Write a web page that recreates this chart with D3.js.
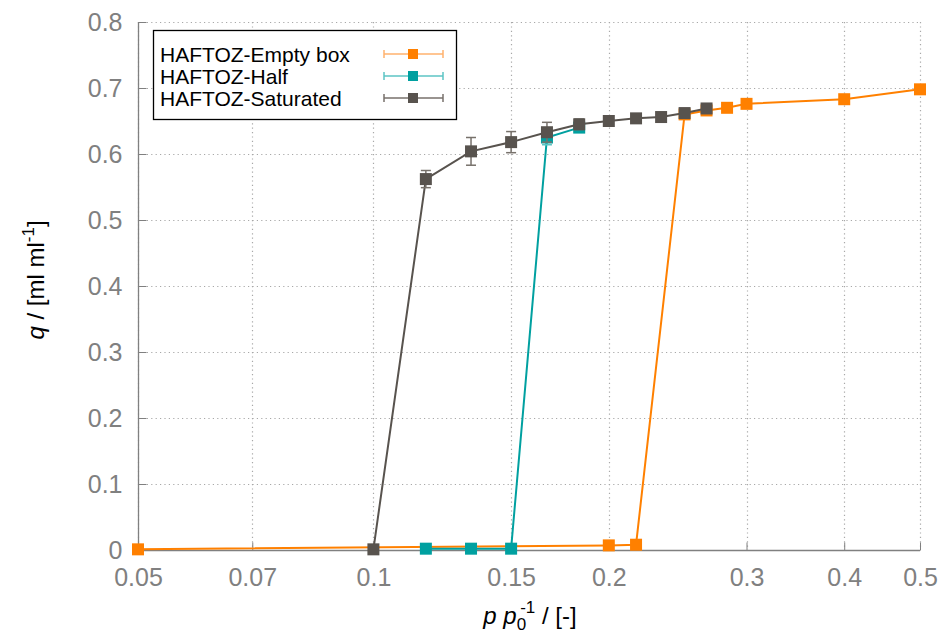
<!DOCTYPE html>
<html lang="en">
<head>
<meta charset="UTF-8">
<title>HAFTOZ isotherms</title>
<script src="https://d3js.org/d3.v7.min.js"></script>
<style>
  body { margin: 0; background: #fff; }
  svg { font-family: "Liberation Sans", Arial, sans-serif; }
  .tick-label { fill: #808080; font-size: 25px; }
  .title { fill: #000; font-size: 24px; }
</style>
</head>
<body>
<svg width="946" height="636"></svg>
<script>
// x: relative pressure p/p0, y: uptake q in ml/ml
const emptyX = [0.05, 0.2, 0.2167, 0.25, 0.2667, 0.2833, 0.3, 0.4, 0.5];
const emptyQ = [0.001, 0.007, 0.008, 0.660, 0.666, 0.670, 0.676, 0.683, 0.698];
const emptyErr = [0.001, 0.001, 0.001, 0.004, 0.003, 0.003, 0.004, 0.003, 0.004];

const halfX = [0.1167, 0.1333, 0.15, 0.1667, 0.1833];
const halfQ = [0.002, 0.002, 0.002, 0.625, 0.640];
const halfErr = [0.001, 0.001, 0.001, 0.011, 0.006];

const satX = [0.1, 0.1167, 0.1333, 0.15, 0.1667, 0.1833, 0.2, 0.2167, 0.2333, 0.25, 0.2667];
const satQ = [0.001, 0.562, 0.604, 0.618, 0.633, 0.645, 0.650, 0.654, 0.656, 0.662, 0.669];
const satErr = [0.001, 0.013, 0.021, 0.016, 0.015, 0.008, 0.007, 0.004, 0.003, 0.004, 0.004];

const xTicks = [0.05, 0.07, 0.1, 0.15, 0.2, 0.3, 0.4, 0.5];
const yTicks = [0, 0.1, 0.2, 0.3, 0.4, 0.5, 0.6, 0.7, 0.8];

const seriesNames = ["HAFTOZ-Empty box", "HAFTOZ-Half", "HAFTOZ-Saturated"];
const seriesColors = ["#ff8000", "#00a0a0", "#58534e"];
const errColors = ["#ffb26e", "#5cc4c4", "#77716b"];

const svg = d3.select("svg");
const pl = 138, pr = 920, pt = 22, pb = 550;

const x = d3.scaleLog().domain([0.05, 0.5]).range([pl, pr]);
const y = d3.scaleLinear().domain([0, 0.8]).range([pb, pt]);

// grid
const grid = svg.append("g").attr("stroke", "#a8a8a8").attr("stroke-width", 1.2)
  .attr("stroke-dasharray", "1.2,3.2");
grid.selectAll(".gx").data(xTicks).enter().append("line")
  .attr("x1", d => Math.round(x(d)) + 0.5).attr("x2", d => Math.round(x(d)) + 0.5)
  .attr("y1", pt).attr("y2", pb);
grid.selectAll(".gy").data(yTicks).enter().append("line")
  .attr("x1", pl).attr("x2", pr)
  .attr("y1", d => Math.round(y(d)) + 0.5).attr("y2", d => Math.round(y(d)) + 0.5);

// axes
const xAxis = svg.append("g").attr("transform", `translate(0,${pb + 0.5})`)
  .call(d3.axisBottom(x).tickValues(xTicks).tickSize(-8).tickPadding(18).tickFormat(d3.format("")));
const yAxis = svg.append("g").attr("transform", `translate(${pl + 0.5},0)`)
  .call(d3.axisLeft(y).tickValues(yTicks).tickSize(-8).tickPadding(16).tickFormat(d3.format("")));
[xAxis, yAxis].forEach(a => {
  a.select(".domain").attr("stroke", "#808080").attr("stroke-width", 1.3);
  a.selectAll(".tick line").attr("stroke", "#808080");
  a.selectAll(".tick text").attr("class", "tick-label").attr("font-size", null).attr("font-family", null);
});
xAxis.select(".domain").attr("d", `M${pl},0H${pr}`);
yAxis.select(".domain").attr("d", `M0,${pb}V${pt}`);

// series
const series = [
  { xs: emptyX, qs: emptyQ, es: emptyErr },
  { xs: halfX, qs: halfQ, es: halfErr },
  { xs: satX, qs: satQ, es: satErr }
];
const line = d3.line().x(d => x(d[0])).y(d => y(d[1]));
const ms = 12;

series.forEach((s, i) => {
  const pts = s.xs.map((v, j) => [v, s.qs[j], s.es[j]]);
  const g = svg.append("g");
  g.append("path").datum(pts).attr("d", line)
    .attr("fill", "none").attr("stroke", seriesColors[i]).attr("stroke-width", 2);
  const eb = g.selectAll(".eb").data(pts).enter().append("g")
    .attr("stroke", errColors[i]).attr("stroke-width", 1.5);
  eb.append("line").attr("x1", d => x(d[0])).attr("x2", d => x(d[0]))
    .attr("y1", d => y(d[1] - d[2])).attr("y2", d => y(d[1] + d[2]));
  eb.append("line").attr("x1", d => x(d[0]) - 5).attr("x2", d => x(d[0]) + 5)
    .attr("y1", d => y(d[1] - d[2])).attr("y2", d => y(d[1] - d[2]));
  eb.append("line").attr("x1", d => x(d[0]) - 5).attr("x2", d => x(d[0]) + 5)
    .attr("y1", d => y(d[1] + d[2])).attr("y2", d => y(d[1] + d[2]));
  g.selectAll(".pt").data(pts).enter().append("rect")
    .attr("x", d => x(d[0]) - ms / 2).attr("y", d => y(d[1]) - ms / 2)
    .attr("width", ms).attr("height", ms).attr("fill", seriesColors[i]);
});

// legend
const lg = svg.append("g");
lg.append("rect").attr("x", 153.5).attr("y", 30.5).attr("width", 303).attr("height", 89)
  .attr("fill", "#fff").attr("stroke", "#000").attr("stroke-width", 1.3);
seriesNames.forEach((name, i) => {
  const cy = 54 + i * 22;
  lg.append("text").attr("x", 160).attr("y", cy + 7.5).attr("font-size", 21).text(name);
  lg.append("line").attr("x1", 384).attr("x2", 443).attr("y1", cy).attr("y2", cy)
    .attr("stroke", errColors[i]).attr("stroke-width", 1.5);
  [384, 443].forEach(cx => lg.append("line").attr("x1", cx).attr("x2", cx)
    .attr("y1", cy - 4).attr("y2", cy + 4).attr("stroke", errColors[i]).attr("stroke-width", 1.5));
  lg.append("rect").attr("x", 413 - 5).attr("y", cy - 5).attr("width", 10).attr("height", 10)
    .attr("fill", seriesColors[i]);
});

// axis titles
const xt = svg.append("text").attr("class", "title").attr("x", 530).attr("y", 624)
  .attr("text-anchor", "middle");
xt.append("tspan").attr("font-style", "italic").text("p p");
xt.append("tspan").attr("font-size", 17).attr("dy", 6).text("0");
xt.append("tspan").attr("font-size", 17).attr("dx", -6).attr("dy", -17).text("-1");
xt.append("tspan").attr("dy", 11).text(" / [-]");

const yt = svg.append("text").attr("class", "title")
  .attr("transform", "translate(44,280) rotate(-90)").attr("text-anchor", "middle");
yt.append("tspan").attr("font-style", "italic").text("q");
yt.append("tspan").text(" / [ml ml");
yt.append("tspan").attr("font-size", 17).attr("dy", -10).text("-1");
yt.append("tspan").attr("dy", 10).text("]");
</script>
</body>
</html>
